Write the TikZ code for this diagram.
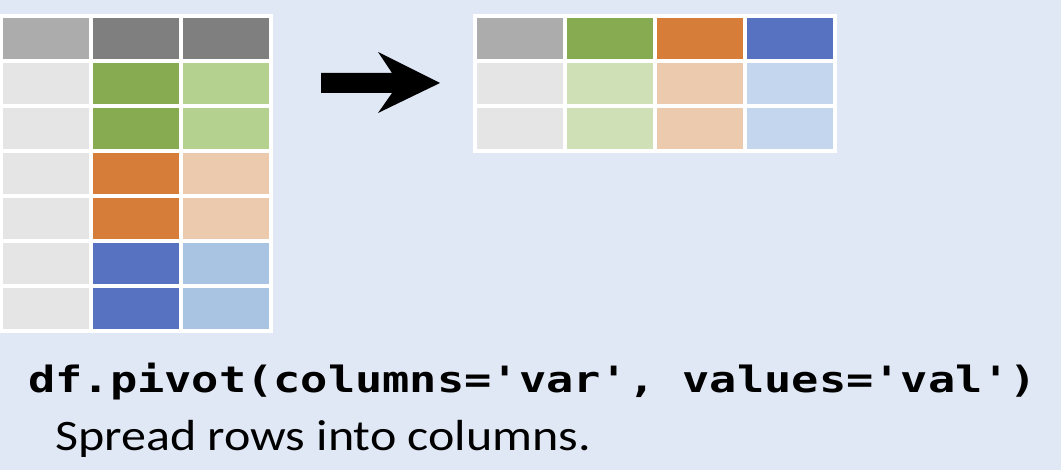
\documentclass[tikz,border=0pt]{standalone}
\usepackage{fontspec}
\newfontfamily\codefont{DejaVu Sans Mono}
\newfontfamily\bodyfont{Carlito}
\definecolor{bg}{HTML}{E1E8F5}
\definecolor{hdlight}{HTML}{ADACAC}
\definecolor{hddark}{HTML}{7F7F7F}
\definecolor{idc}{HTML}{E5E5E5}
\definecolor{grn}{HTML}{86AB50}
\definecolor{lgrn}{HTML}{B4D18F}
\definecolor{org}{HTML}{D67D3A}
\definecolor{lorg}{HTML}{ECCAAD}
\definecolor{blu}{HTML}{5672C0}
\definecolor{lblu}{HTML}{A9C3E3}
\definecolor{lgrnb}{HTML}{CFE0B7}
\definecolor{lblub}{HTML}{C4D6EE}
\tikzset{
  cell/.style={anchor=north west, inner sep=0pt, minimum width=86pt, minimum height=41pt, draw=none},
  tablebg/.style={fill=white},
}
\begin{document}
\begin{tikzpicture}[x=1pt,y=-1pt]
\useasboundingbox (0,0) rectangle (1061,470);
\fill[bg] (0,0) rectangle (1061,470);
% left table
\fill[tablebg] (0,14) rectangle (273,333);
\foreach \r/\ca/\cb/\cc in {0/hdlight/hddark/hddark,1/idc/grn/lgrn,2/idc/grn/lgrn,3/idc/org/lorg,4/idc/org/lorg,5/idc/blu/lblu,6/idc/blu/lblu}{
  \node[cell, fill=\ca] (L-\r-0) at (3,18+45*\r) {};
  \node[cell, fill=\cb] (L-\r-1) at (93,18+45*\r) {};
  \node[cell, fill=\cc] (L-\r-2) at (183,18+45*\r) {};
}
% right table
\fill[tablebg] (473,14) rectangle (837,153);
\foreach \r/\ca/\cb/\cc/\cd in {0/hdlight/grn/org/blu,1/idc/lgrnb/lorg/lblub,2/idc/lgrnb/lorg/lblub}{
  \node[cell, fill=\ca] (R-\r-0) at (477,18+45*\r) {};
  \node[cell, fill=\cb] (R-\r-1) at (567,18+45*\r) {};
  \node[cell, fill=\cc] (R-\r-2) at (657,18+45*\r) {};
  \node[cell, fill=\cd] (R-\r-3) at (747,18+45*\r) {};
}
% arrow
\fill[black] (321,73) -- (392,73) -- (378,52) -- (440,83) -- (378,113) -- (392,93) -- (321,93) -- cycle;
% texts
\node[anchor=base west, inner sep=0pt] (code) at (28,392)
  {\scalebox{1}[0.8]{\fontsize{45.3}{50}\selectfont\codefont\bfseries df.pivot(columns='var', values='val')}};
\node[anchor=base west, inner sep=0pt] (desc) at (55,450)
  {\scalebox{1.15}[1]{\fontsize{43.5}{50}\selectfont\bodyfont Spread rows into columns.}};
\end{tikzpicture}
\end{document}
